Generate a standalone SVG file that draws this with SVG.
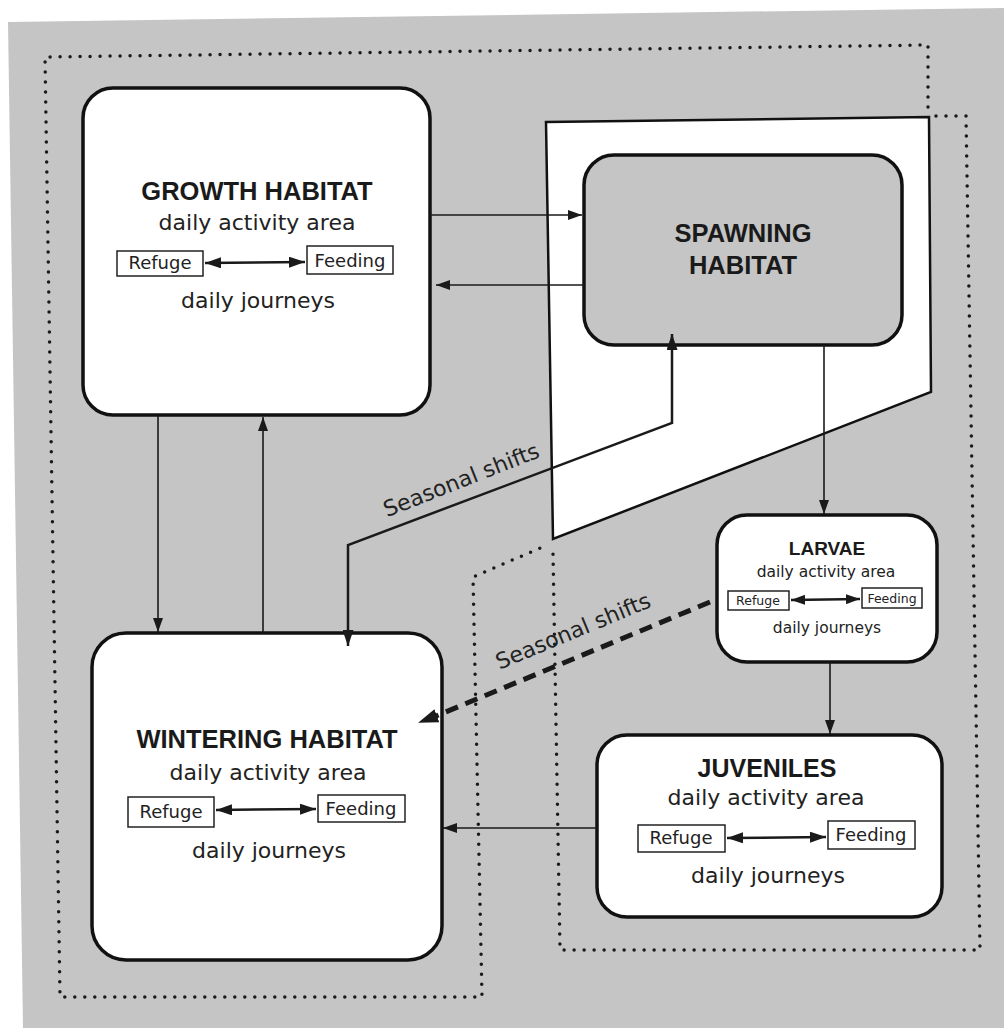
<svg xmlns="http://www.w3.org/2000/svg" width="1004" height="1028" viewBox="0 0 1004 1028">
<style>
.node{fill:#fff;stroke:#111;stroke-width:3.5}
.gnode{fill:#c5c5c5;stroke:#111;stroke-width:3.5}
.box{fill:#fff;stroke:#222;stroke-width:1.5}
.title{font-family:"Liberation Sans",Arial,sans-serif;font-weight:bold;fill:#1a1a1a;text-anchor:middle}
.reg{font-family:"DejaVu Sans","Liberation Sans",sans-serif;fill:#222;text-anchor:middle}
.conn{fill:none;stroke:#1a1a1a;stroke-width:1.6}
.dbl{fill:none;stroke:#1a1a1a;stroke-width:2.5}
.dot{fill:none;stroke:#1a1a1a;stroke-width:3.5;stroke-linecap:round;stroke-dasharray:0 10}
</style>
<defs>
<marker id="arr" markerUnits="userSpaceOnUse" viewBox="0 0 14 10" markerWidth="14" markerHeight="10" refX="14" refY="5" orient="auto-start-reverse">
<path d="M0,0 L14,5 L0,10 z" fill="#1a1a1a"/>
</marker>
<marker id="sarr" markerUnits="userSpaceOnUse" viewBox="0 0 16 11" markerWidth="16" markerHeight="11" refX="16" refY="5.5" orient="auto-start-reverse">
<path d="M0,0 L16,5.5 L0,11 z" fill="#1a1a1a"/>
</marker>
<marker id="big" markerUnits="userSpaceOnUse" viewBox="0 0 20 14" markerWidth="20" markerHeight="14" refX="18" refY="7" orient="auto">
<path d="M0,0 L20,7 L0,14 z" fill="#1a1a1a"/>
</marker>
</defs>
<polygon points="8,22 1004,8 1004,1028 23,1028" fill="#c5c5c5"/>
<g id="zones">
<polygon points="546,122 929,117 931,392 553,539" fill="#fff" stroke="#111" stroke-width="2.5"/>
<polyline class="dot" points="928,107 928,45 45,57 60,997 482,997 473,577 545,546"/>
<polyline class="dot" points="936,116 966,116 980,950 560,950 553,553"/>
</g>
<g id="growth">
<rect class="node" x="83" y="88" width="347" height="327" rx="30"/>
<text class="title" x="257" y="200" font-size="25.5">GROWTH HABITAT</text>
<text class="reg" x="257" y="230" font-size="22">daily activity area</text>
<rect class="box" x="117" y="251" width="86" height="25"/>
<text class="reg" x="160" y="269" font-size="18">Refuge</text>
<rect class="box" x="307" y="246" width="86" height="28"/>
<text class="reg" x="350" y="267" font-size="18">Feeding</text>
<line class="dbl" x1="205" y1="263" x2="305" y2="262" marker-start="url(#sarr)" marker-end="url(#sarr)"/>
<text class="reg" x="258" y="308" font-size="22">daily journeys</text>
</g>
<g id="spawning">
<rect class="gnode" x="584" y="155" width="318" height="190" rx="30"/>
<text class="title" x="743" y="242" font-size="25.5">SPAWNING</text>
<text class="title" x="743" y="274" font-size="25.5">HABITAT</text>
</g>
<g id="larvae">
<rect class="node" x="717" y="515" width="220" height="147" rx="30"/>
<text class="title" x="827" y="555" font-size="19">LARVAE</text>
<text class="reg" x="826" y="577" font-size="15.5">daily activity area</text>
<rect class="box" x="728" y="591" width="61" height="19"/>
<text class="reg" x="758" y="605" font-size="12.5">Refuge</text>
<rect class="box" x="862" y="588" width="60" height="20"/>
<text class="reg" x="892" y="603" font-size="12.5">Feeding</text>
<line class="dbl" x1="791" y1="600" x2="860" y2="599" marker-start="url(#arr)" marker-end="url(#arr)"/>
<text class="reg" x="827" y="633" font-size="15.5">daily journeys</text>
</g>
<g id="juveniles">
<rect class="node" x="597" y="735" width="345" height="182" rx="30"/>
<text class="title" x="767" y="777" font-size="25">JUVENILES</text>
<text class="reg" x="766" y="805" font-size="22">daily activity area</text>
<rect class="box" x="638" y="825" width="87" height="27"/>
<text class="reg" x="681" y="844" font-size="18">Refuge</text>
<rect class="box" x="828" y="821" width="87" height="28"/>
<text class="reg" x="871" y="841" font-size="18">Feeding</text>
<line class="dbl" x1="727" y1="838" x2="826" y2="837" marker-start="url(#sarr)" marker-end="url(#sarr)"/>
<text class="reg" x="768" y="883" font-size="22">daily journeys</text>
</g>
<g id="wintering">
<rect class="node" x="92" y="633" width="350" height="327" rx="34"/>
<text class="title" x="267" y="748" font-size="25.5">WINTERING HABITAT</text>
<text class="reg" x="268" y="780" font-size="22">daily activity area</text>
<rect class="box" x="128" y="797" width="86" height="30"/>
<text class="reg" x="171" y="818" font-size="18">Refuge</text>
<rect class="box" x="318" y="795" width="87" height="27"/>
<text class="reg" x="361" y="815" font-size="18">Feeding</text>
<line class="dbl" x1="216" y1="810" x2="316" y2="809" marker-start="url(#sarr)" marker-end="url(#sarr)"/>
<text class="reg" x="269" y="858" font-size="22">daily journeys</text>
</g>
<g id="connectors">
<line class="conn" x1="430" y1="215" x2="582" y2="215" marker-end="url(#arr)"/>
<line class="conn" x1="584" y1="285" x2="436" y2="285" marker-end="url(#arr)"/>
<line class="conn" x1="158" y1="415" x2="158" y2="632" marker-end="url(#arr)"/>
<line class="conn" x1="263" y1="633" x2="263" y2="417" marker-end="url(#arr)"/>
<line class="conn" x1="824" y1="345" x2="824" y2="514" marker-end="url(#arr)"/>
<line class="conn" x1="830" y1="662" x2="830" y2="734" marker-end="url(#arr)"/>
<line class="conn" x1="597" y1="828" x2="443" y2="828" marker-end="url(#arr)"/>
<path d="M348,646 L348,545 L672,423 L672,334" fill="none" stroke="#1a1a1a" stroke-width="2.5" marker-start="url(#sarr)" marker-end="url(#sarr)"/>
<line x1="710" y1="602" x2="436" y2="716" stroke="#1a1a1a" stroke-width="5" stroke-dasharray="13 8"/>
<line x1="436" y1="716" x2="420" y2="722" stroke="none" marker-end="url(#big)"/>
<text class="reg" x="464" y="487" font-size="22" transform="rotate(-21.5 464 487)">Seasonal shifts</text>
<text class="reg" x="576" y="638" font-size="22" transform="rotate(-22.5 576 638)">Seasonal shifts</text>
</g>
</svg>
